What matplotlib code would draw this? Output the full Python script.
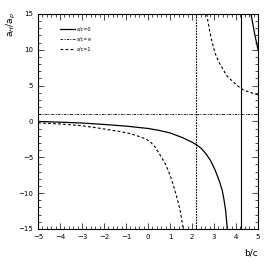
import numpy as np
import matplotlib
matplotlib.use('Agg')
import matplotlib.pyplot as plt
from matplotlib.ticker import MultipleLocator

# a/c = 0 (solid), two branches around the pole
b_solid_1 = [-5, -4, -3, -2, -1, 0, 0.5, 1, 1.6, 2.0, 2.2, 2.45, 2.65, 2.85, 3.05, 3.15,
             3.27, 3.37, 3.45, 3.53, 3.6]
r_solid_1 = [0, -0.1, -0.22, -0.42, -0.65, -0.98, -1.25, -1.6, -2.3, -2.9, -3.25, -3.85, -4.6,
             -5.5, -6.8, -7.6, -8.6, -9.6, -10.9, -12.5, -15]
b_solid_2 = [4.68, 4.84, 5.0]
r_solid_2 = [15, 12.3, 10]
pole_solid = 4.21

# a/c = 1 (dashed)
b_dash_1 = [-5, -4, -3, -2.2, -1.3, -0.8, -0.4, -0.1, 0.1, 0.3, 0.55, 0.8, 1.0, 1.15,
            1.3, 1.45, 1.53, 1.6]
r_dash_1 = [-0.2, -0.35, -0.6, -0.95, -1.4, -1.7, -2.1, -2.45, -2.85, -3.5, -4.7, -6.0,
            -7.5, -8.9, -10.5, -12.3, -13.7, -15]
b_dash_2 = [2.67, 2.72, 2.82, 2.92, 3.05, 3.2, 3.42, 3.6, 3.88, 4.1, 4.33, 4.6, 5.0]
r_dash_2 = [15, 14, 12.3, 11, 9.5, 8.4, 7.2, 6.3, 5.5, 4.9, 4.4, 4.1, 3.7]
pole_dash = 2.2

# a/c = inf (dash-dot)
r_inf = 1.0

fig = plt.figure(figsize=(2.76, 2.69), dpi=100)
ax = fig.add_axes([0.138, 0.149, 0.797, 0.799])

ax.plot(b_solid_1, r_solid_1, color='black', lw=0.9, label='a/c=0')
ax.plot(b_solid_2, r_solid_2, color='black', lw=0.9)
ax.axvline(pole_solid, color='black', lw=0.8)

ax.axhline(r_inf, color='black', lw=0.6, dashes=[3, 1, 0.8, 1, 0.8, 1], label='a/c=\u221e')

ax.plot(b_dash_1, r_dash_1, color='black', lw=0.8, dashes=[2.5, 2], label='a/c=1')
ax.plot(b_dash_2, r_dash_2, color='black', lw=0.8, dashes=[2.5, 2])
ax.axvline(pole_dash, color='black', lw=0.8, dashes=[1.5, 1])

ax.set_xlim(-5, 5)
ax.set_ylim(-15, 15)
ax.xaxis.set_major_locator(MultipleLocator(1))
ax.xaxis.set_minor_locator(MultipleLocator(0.2))
ax.yaxis.set_major_locator(MultipleLocator(5))
ax.yaxis.set_minor_locator(MultipleLocator(1))
ax.tick_params(which='both', direction='in', top=True, right=True, labelsize=5, width=0.5)
ax.tick_params(which='major', length=4)
ax.tick_params(which='minor', length=2)
for s in ax.spines.values():
    s.set_linewidth(0.8)

ax.set_xlabel('b/c', fontsize=6.5, loc='right', labelpad=6)
fig.text(11 / 276, 1 - 25 / 269, 'a$_{H}$/a$_{p}$', fontsize=6.5, rotation=90,
         ha='center', va='center')

ax.legend(loc='upper left', bbox_to_anchor=(0.08, 0.96), frameon=False,
          fontsize=3.5, handlelength=3, labelspacing=1.0, handletextpad=0.5)

fig.savefig('out.png', dpi=100)
